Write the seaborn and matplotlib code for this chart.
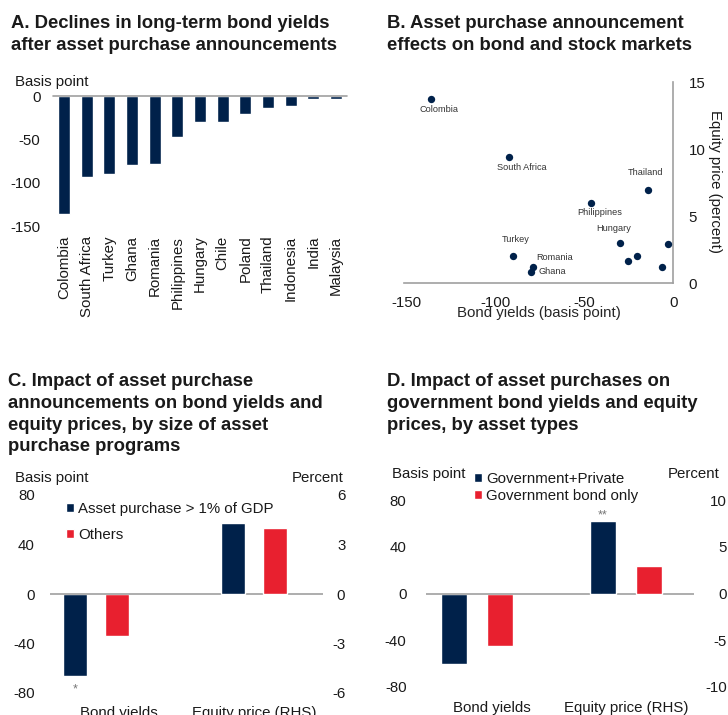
import numpy as np
import pandas as pd
import seaborn as sns
import matplotlib.pyplot as plt
import matplotlib.transforms as mtransforms

# colours
navy = "#00214A"
red = "#E8202F"
grey = "#A0A0A0"
txt = "#1A1A1A"

# Panel A: declines in long-term bond yields (basis points)
countries_a = ["Colombia", "South Africa", "Turkey", "Ghana", "Romania", "Philippines",
               "Hungary", "Chile", "Poland", "Thailand", "Indonesia", "India", "Malaysia"]
yields_a = [-136, -93, -90, -80, -79, -47, -30, -29.5, -21, -14, -12, -4, -3]

# Panel B: bond yield change vs equity price change
countries_b = ["Colombia", "South Africa", "Turkey", "Ghana", "Romania", "Philippines",
               "Hungary", "Chile", "Poland", "Thailand", "India", "Malaysia"]
bond_b = [-136.3, -92.6, -90, -80.2, -78.9, -46.5, -30, -25.3, -20.6, -14, -6.5, -2.8]
equity_b = [13.7, 9.4, 2.0, 0.86, 1.24, 6.0, 3.0, 1.66, 2.03, 6.94, 1.24, 2.9]
# label offsets in pixels (dx, dy); None = no label
label_off_b = [(8, -10), (13, -10), (2, 17), (22, 0), (22, 9), (9, -10),
               (-6, 15), None, None, (-3, 18), None, None]

measures = ["Bond yields", "Equity price (RHS)"]

# Panel C: by size of asset purchase programs
groups_c = ["Asset purchase > 1% of GDP", "Others"]
bond_c = [-66, -34]       # basis points (LHS)
equity_c = [4.3, 4.0]     # percent (RHS)

# Panel D: by asset types
groups_d = ["Government+Private", "Government bond only"]
bond_d = [-60.4, -44.8]   # basis points (LHS)
equity_d = [7.8, 2.9]     # percent (RHS)

sns.set_theme(style="white")
plt.rcParams['font.family'] = ['Liberation Sans', 'DejaVu Sans']
plt.rcParams['axes.unicode_minus'] = False
plt.rcParams['text.color'] = txt
plt.rcParams['xtick.color'] = txt
plt.rcParams['ytick.color'] = txt

W, H = 728, 715
fig = plt.figure(figsize=(W / 100, H / 100), dpi=100)
FS = 10.8
TFS = 13.3
LS = 1.37


def px_axes(left, top, right, bottom):
    return fig.add_axes([left / W, 1 - bottom / H, (right - left) / W, (bottom - top) / H])


def fig_text(x, y, s, **kw):
    return fig.text(x / W, 1 - y / H, s, **kw)


def clean(ax):
    for sp in ax.spines.values():
        sp.set_visible(False)
    ax.tick_params(length=0, labelsize=FS)
    ax.set_xlabel("")
    ax.set_ylabel("")


# titles
fig_text(11, 15, "A. Declines in long-term bond yields\nafter asset purchase announcements",
         fontsize=TFS, fontweight="bold", va="top", linespacing=LS)
fig_text(387, 15, "B. Asset purchase announcement\neffects on bond and stock markets",
         fontsize=TFS, fontweight="bold", va="top", linespacing=LS)
fig_text(8, 373, "C. Impact of asset purchase\nannouncements on bond yields and\n"
         "equity prices, by size of asset\npurchase programs",
         fontsize=TFS, fontweight="bold", va="top", linespacing=LS)
fig_text(387, 373, "D. Impact of asset purchases on\ngovernment bond yields and equity\n"
         "prices, by asset types",
         fontsize=TFS, fontweight="bold", va="top", linespacing=LS)

# ---- Panel A
axA = px_axes(53, 96, 347, 226)
sns.barplot(x=countries_a, y=yields_a, color=navy, saturation=1, width=0.53, ax=axA)
clean(axA)
axA.set_ylim(-150, 0)
axA.set_yticks([0, -50, -100, -150])
axA.set_xlim(-0.49, len(countries_a) - 0.51)
axA.axhline(0, color=grey, lw=1.2, clip_on=False)
axA.tick_params(axis="x", rotation=90, pad=7)
axA.tick_params(axis="y", pad=9)
fig_text(15, 82, "Basis point", fontsize=FS, va="center")

# ---- Panel B
axB = px_axes(404, 82, 673.3, 283.3)
df_b = pd.DataFrame({"country": countries_b, "bond": bond_b, "equity": equity_b})
sns.scatterplot(data=df_b, x="bond", y="equity", color=navy, s=28, edgecolor=navy,
                linewidth=0, ax=axB, zorder=3)
axB.set_xlim(-151.5, 0)
axB.set_ylim(0, 15)
axB.set_xticks([-150, -100, -50, 0])
axB.set_yticks([0, 5, 10, 15])
for k in ["left", "top"]:
    axB.spines[k].set_visible(False)
for k in ["right", "bottom"]:
    axB.spines[k].set_color(grey)
    axB.spines[k].set_linewidth(1.2)
axB.yaxis.tick_right()
axB.tick_params(length=0, labelsize=FS)
axB.tick_params(axis="y", pad=11)
axB.tick_params(axis="x", pad=9)
axB.set_xlabel("Bond yields (basis point)", fontsize=FS, labelpad=-3)
axB.set_ylabel("")
fig_text(715, 182, "Equity price (percent)", fontsize=FS, rotation=270,
         va="center", ha="center")
for name, x, y, off in zip(countries_b, bond_b, equity_b, label_off_b):
    if off is None:
        continue
    axB.annotate(name, (x, y), xytext=off, textcoords="offset pixels",
                 ha="center", va="center", fontsize=6.6, color="#333333")


def twin_panel(left, top, right, bottom, groups, bond, equity, lim_l, ticks_l,
               lim_r, ticks_r, width, gap, xlim):
    ax = px_axes(left, top, right, bottom)
    df_bond = pd.DataFrame({"measure": measures[0], "group": groups, "value": bond})
    df_eq = pd.DataFrame({"measure": measures[1], "group": groups, "value": equity})
    sns.barplot(data=df_bond, x="measure", y="value", hue="group", order=measures,
                hue_order=groups, palette=[navy, red], saturation=1, width=width,
                gap=gap, ax=ax)
    ax2 = ax.twinx()
    sns.barplot(data=df_eq, x="measure", y="value", hue="group", order=measures,
                hue_order=groups, palette=[navy, red], saturation=1, width=width,
                gap=gap, ax=ax2, legend=False)
    clean(ax)
    clean(ax2)
    ax.set_ylim(*lim_l)
    ax.set_yticks(ticks_l)
    ax2.set_ylim(*lim_r)
    ax2.set_yticks(ticks_r)
    ax.set_xlim(*xlim)
    ax2.set_xlim(*xlim)
    ax.axhline(0, color=grey, lw=1.2)
    plt.setp(ax2.get_yticklabels(), ha="right")
    handles, labels = ax.get_legend_handles_labels()
    ax.legend_.remove()
    return ax, ax2, handles, labels


def shift_label(lbl, dx):
    lbl.set_transform(lbl.get_transform() +
                      mtransforms.ScaledTranslation(dx / 100, 0, fig.dpi_scale_trans))


# ---- Panel C
axC, axC2, hC, lC = twin_panel(50, 495, 323, 693, groups_c, bond_c, equity_c,
                               (-80, 80), [-80, -40, 0, 40, 80],
                               (-6, 6), [-6, -3, 0, 3, 6],
                               0.532, 0.43, (-0.294, 1.434))
axC.tick_params(axis="y", pad=11)
axC2.tick_params(axis="y", pad=16)
axC.tick_params(axis="x", pad=9)
shift_label(axC.get_xticklabels()[0], 22)
fig.legend(hC, lC, loc="upper left", bbox_to_anchor=(66 / W, 1 - 502 / H),
           frameon=False, fontsize=FS, handlelength=0.5, handleheight=0.5,
           handletextpad=0.3, labelspacing=0.8, borderpad=0, borderaxespad=0)
fig_text(15, 478, "Basis point", fontsize=FS, va="center")
fig_text(344, 478, "Percent", fontsize=FS, va="center", ha="right")
b = axC.containers[0][0]
axC.annotate("*", (b.get_x() + b.get_width() / 2, b.get_y() + b.get_height()),
             xytext=(0, -14), textcoords="offset pixels", ha="center", va="center",
             fontsize=9, color="#777777")

# ---- Panel D
axD, axD2, hD, lD = twin_panel(426, 500, 694, 687, groups_d, bond_d, equity_d,
                               (-80, 80), [-80, -40, 0, 40, 80],
                               (-10, 10), [-10, -5, 0, 5, 10],
                               0.624, 0.44, (-0.342, 1.456))
axD.tick_params(axis="y", pad=14)
axD2.tick_params(axis="y", pad=23.5)
axD.tick_params(axis="x", pad=10)
shift_label(axD.get_xticklabels()[0], 15)
fig.legend(hD, lD, loc="upper left", bbox_to_anchor=(474 / W, 1 - 472 / H),
           frameon=False, fontsize=FS, handlelength=0.5, handleheight=0.5,
           handletextpad=0.3, labelspacing=0.2, borderpad=0, borderaxespad=0)
fig_text(392, 474, "Basis point", fontsize=FS, va="center")
fig_text(720, 474, "Percent", fontsize=FS, va="center", ha="right")
b = axD2.containers[0][0]
axD2.annotate("**", (b.get_x() + b.get_width() / 2, b.get_y() + b.get_height()),
              xytext=(0, 5), textcoords="offset pixels", ha="center", va="center",
              fontsize=9, color="#777777")

fig.savefig("out.png", dpi=100)
